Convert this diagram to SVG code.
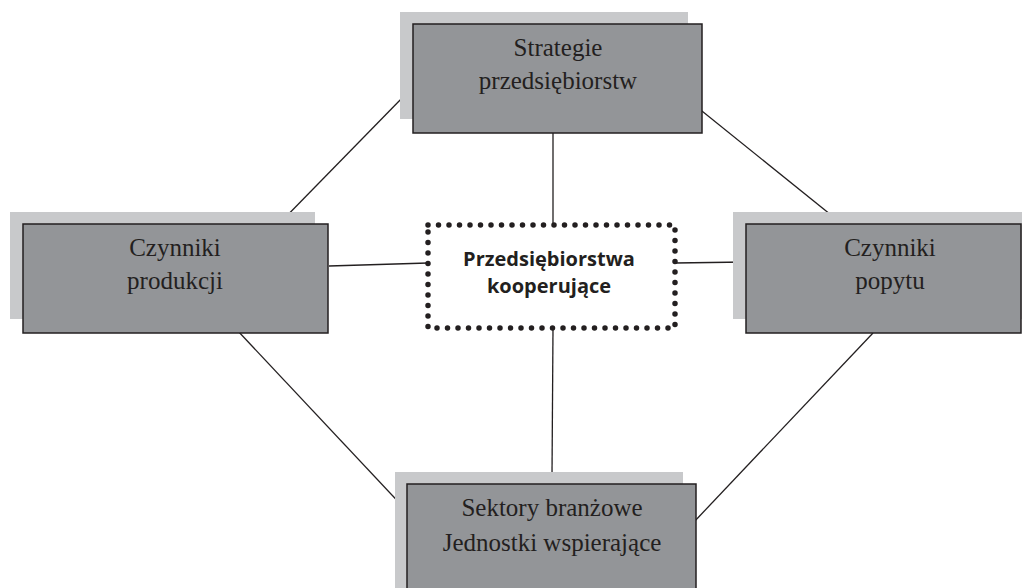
<svg xmlns="http://www.w3.org/2000/svg" width="1024" height="588" viewBox="0 0 1024 588">
<style>
.sh{fill:#c8c9cb;stroke:none}
.bx{fill:#939598;stroke:#231f20;stroke-width:1.5}
.t{font-family:"Liberation Serif","Times New Roman",serif;font-size:25px;fill:#231f20;text-anchor:middle}
.c{font-family:"Open Sans","Liberation Sans",sans-serif;font-size:20px;font-weight:bold;fill:#231f20;text-anchor:middle}
.ln{stroke:#231f20;stroke-width:1.3;fill:none}
.dot{fill:none;stroke:#231f20;stroke-width:5.5;stroke-linecap:round;stroke-dasharray:0 10.5}
</style>
<rect width="1024" height="588" fill="#ffffff"/>
<g id="connectors">
<line class="ln" x1="553" y1="133" x2="553" y2="225"/>
<line class="ln" x1="553" y1="328" x2="552" y2="475"/>
<line class="ln" x1="329" y1="266" x2="428" y2="263"/>
<line class="ln" x1="675" y1="263" x2="746" y2="262"/>
<line class="ln" x1="405" y1="95" x2="273" y2="230"/>
<line class="ln" x1="692" y1="103" x2="841" y2="223"/>
<line class="ln" x1="237" y1="330" x2="406" y2="510"/>
<line class="ln" x1="873" y1="333" x2="693" y2="523"/>
</g>
<g id="strategie">
<rect class="sh" x="400" y="12" width="288" height="107"/>
<rect class="bx" x="413" y="24" width="289" height="109"/>
<text class="t" x="558" y="56">Strategie</text>
<text class="t" x="558" y="89">przedsiębiorstw</text>
</g>
<g id="czynniki-produkcji">
<rect class="sh" x="10" y="212" width="305" height="107"/>
<rect class="bx" x="23" y="224" width="305" height="109"/>
<text class="t" x="175" y="256">Czynniki</text>
<text class="t" x="175" y="289">produkcji</text>
</g>
<g id="czynniki-popytu">
<rect class="sh" x="733" y="212" width="289" height="107"/>
<rect class="bx" x="746" y="224" width="275" height="109"/>
<text class="t" x="890" y="256">Czynniki</text>
<text class="t" x="890" y="289">popytu</text>
</g>
<g id="sektory">
<rect class="sh" x="395" y="472" width="288" height="120"/>
<rect class="bx" x="407" y="484" width="289" height="110"/>
<text class="t" x="552" y="516">Sektory branżowe</text>
<text class="t" x="552" y="551">Jednostki wspierające</text>
</g>
<g id="przedsiebiorstwa">
<rect class="dot" x="428" y="225" width="247" height="103"/>
<text class="c" x="549" y="266">Przedsiębiorstwa</text>
<text class="c" x="549" y="293">kooperujące</text>
</g>
</svg>
